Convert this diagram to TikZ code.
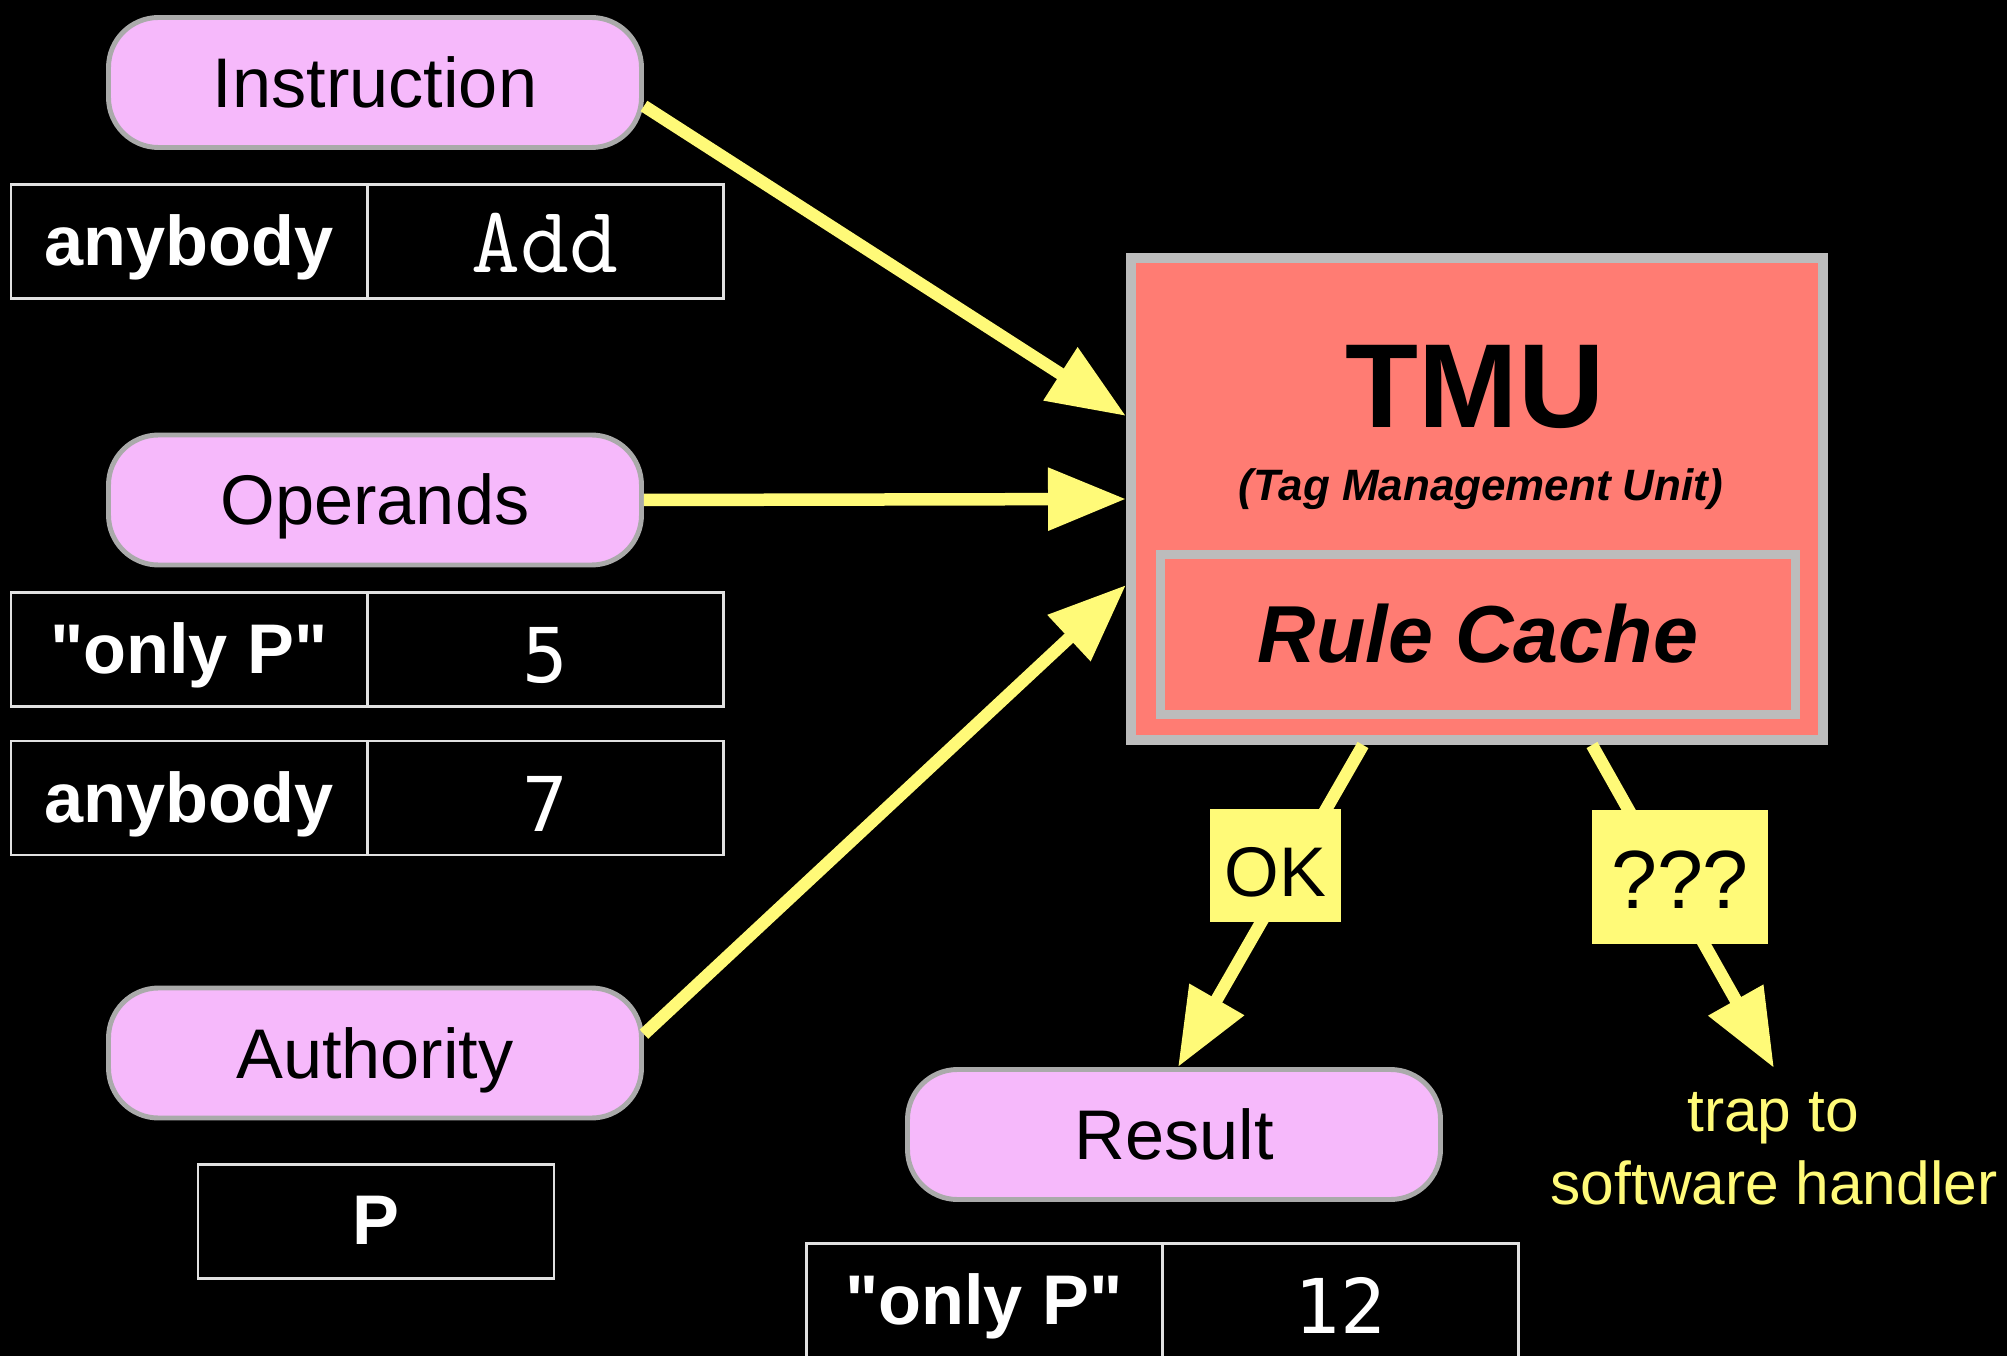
\documentclass[tikz,border=0pt]{standalone}
\usepackage{fontspec}
\setmainfont{Liberation Sans}[Ligatures=TeXOff]
\newfontfamily\digitfont{DejaVu Sans Mono}
\usetikzlibrary{arrows.meta,calc}

\definecolor{pillpink}{RGB}{246,185,251}
\definecolor{pillgrey}{RGB}{170,170,170}
\definecolor{tmusalmon}{RGB}{255,124,115}
\definecolor{tmugrey}{RGB}{188,188,188}
\definecolor{flowyellow}{RGB}{255,250,120}
\definecolor{cellline}{RGB}{225,225,225}

\newcommand\pillfont{\fontsize{20}{24}\selectfont}
\newcommand\tagfont{\fontsize{20}{24}\selectfont\bfseries}
\newcommand\codefont{\fontsize{27}{32}\selectfont\ttfamily}
\newcommand\numfont{\fontsize{21.5}{26}\selectfont\digitfont}

\begin{document}
\begin{tikzpicture}[x=0.1mm,y=-0.1mm,
  pill/.style={draw=pillgrey, line width=1.4pt, fill=pillpink, rounded corners=5mm,
    minimum width=53.3mm, minimum height=13mm, inner sep=0pt,
    text height=5mm, text depth=0pt, font=\pillfont, text=black},
  cell/.style={draw=cellline, line width=0.85pt, minimum width=35.6mm,
    minimum height=11.4mm, inner sep=0pt, text depth=0pt, text=white},
  tagcell/.style={cell, font=\tagfont, text height=4.8mm},
  codecell/.style={cell, font=\codefont, text height=6.2mm},
  numcell/.style={cell, font=\numfont, text height=6.6mm},
  verdict/.style={fill=flowyellow, inner sep=0pt, text depth=0pt, text=black},
  flow/.style={draw=flowyellow, line width=1.25mm,
    -{Triangle[length=7.8mm,width=6mm]}, fill=flowyellow},
]
% canvas
\fill[black] (0,0) rectangle (2007,1356);
\useasboundingbox (0,0) rectangle (2007,1356);

% input pills and their tag/value records
\node[pill] (instr) at (375,82.5) {Instruction};
\node[tagcell]  (instrtag) at (189,241.5) {anybody};
\node[codecell] (instrval) at (545,241.5) {Add};

\node[pill] (oper) at (375,500) {Operands};
\node[tagcell] (optagA) at (189,649.5) {"only P"};
\node[numcell] (opvalA) at (545,649.5) {5};
\node[tagcell] (optagB) at (189,798) {anybody};
\node[numcell] (opvalB) at (545,798) {7};

\node[pill] (auth) at (375,1053) {Authority};
\node[tagcell, text height=4.5mm] (authval) at (376,1221.5) {P};

% tag management unit
\node[draw=tmugrey, line width=1mm, fill=tmusalmon, minimum width=69.2mm,
  minimum height=48.2mm, inner sep=0pt] (tmu) at (1477,499) {};
\node[anchor=base, font=\fontsize{34}{40}\selectfont\bfseries] (tmutitle)
  at (1475,428) {TMU};
\node[anchor=base, font=\fontsize{12.5}{15}\selectfont\bfseries\itshape] (tmusub)
  at (1481,500) {(Tag Management Unit)};
\node[draw=tmugrey, line width=0.9mm, fill=tmusalmon, minimum width=63.5mm,
  minimum height=16mm, inner sep=0pt, text height=5.7mm, text depth=0pt,
  font=\fontsize{23}{28}\selectfont\bfseries\itshape] (cache)
  at (1478,634.5) {Rule Cache};

% result pill and record
\node[pill] (result) at (1174,1134.5) {Result};
\node[tagcell] (restag) at (984,1300) {"only P"};
\node[numcell] (resval) at (1340,1300) {12};

% trap destination
\node[anchor=base, text=flowyellow, font=\fontsize{17.2}{21}\selectfont] (trapA)
  at (1773,1131) {trap to};
\node[anchor=base, text=flowyellow, font=\fontsize{17.2}{21}\selectfont] (trapB)
  at (1774,1204) {software handler};
\coordinate (trapend) at (1774,1068);

% inputs into the TMU
\draw[flow] (instr.-5) -- ($(tmu.west)+(0,-83)$);
\draw[flow] (oper.east) -- (tmu.west);
\draw[flow] (auth.4) -- ($(tmu.west)+(0,86)$);

% outcomes of the rule lookup
\draw[flow] ($(tmu.south)+(-114,0)$) -- ($(result.north)+(4,0)$);
\draw[flow] ($(tmu.south)+(115,0)$) -- (trapend);

\node[verdict, minimum width=13.1mm, minimum height=11.3mm, text height=6.1mm,
  font=\fontsize{20}{24}\selectfont] (ok) at (1275.5,865.5) {OK};
\node[verdict, minimum width=17.6mm, minimum height=13.4mm, text height=6.3mm,
  font=\fontsize{23.5}{28}\selectfont] (miss) at (1680,876.5) {???};
\end{tikzpicture}
\end{document}
